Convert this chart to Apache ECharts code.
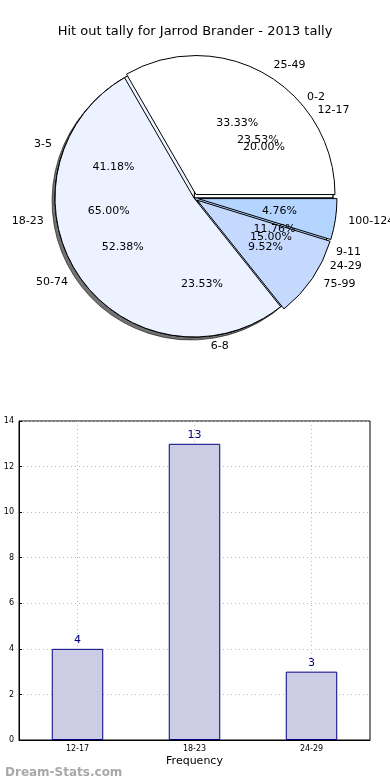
<!DOCTYPE html>
<html><head><meta charset="utf-8">
<script src="https://cdn.jsdelivr.net/npm/echarts@6/dist/echarts.min.js"></script>
<style>html,body{margin:0;padding:0;background:#fff}#c{width:390px;height:780px}</style>
</head><body><div id="c"></div>
<script>
const chartTitle = 'Hit out tally for Jarrod Brander - 2013 tally';
const watermark = 'Dream-Stats.com';
// pie 1 (drawn first, bottom)
const ageCats = ['12-17', '18-23', '24-29'];
const ageVals = [4, 13, 3];
// pie 2
const tallyCats = ['0-2', '3-5', '6-8', '9-11'];
const tallyVals = [4, 7, 4, 2];
// pie 3 (top)
const rangeCats = ['25-49', '50-74', '75-99', '100-124'];
const rangeVals = [7, 11, 2, 1];
const exploded = ['25-49', '75-99', '100-124'];
// bar chart
const barCats = ['12-17', '18-23', '24-29'];
const barVals = [4, 13, 3];
const yMin = 0, yMax = 14, yStep = 2;
const xAxisName = 'Frequency';
const yAxisName = 'Distribution';

const palette = ['#ffffff', '#ecf2ff', '#c5d9ff', '#b3d5ff'];
const FONT = 'DejaVu Sans';
const CX = 194, CY = 198, R = 139;

function pieData(cats, vals, withExplode) {
  return cats.map((c, i) => ({
    name: c, value: vals[i],
    selected: withExplode ? exploded.indexOf(c) >= 0 : false,
    itemStyle: { color: palette[i % palette.length] }
  }));
}
function pieSeries(cats, vals, z, shadow, withExplode) {
  return {
    type: 'pie', center: [CX, CY], radius: [0, R], startAngle: 0, clockwise: false,
    silent: true, animation: false, avoidLabelOverlap: false, z: z,
    selectedMode: 'multiple', selectedOffset: 4,
    data: pieData(cats, vals, withExplode),
    itemStyle: Object.assign({ borderColor: '#000', borderWidth: 1 },
      shadow ? { shadowColor: 'rgba(0,0,0,0.55)', shadowBlur: 0, shadowOffsetX: -3, shadowOffsetY: 3 } : {}),
    label: { show: true, position: 'outside', color: '#000', fontFamily: FONT, fontSize: 11, distanceToLabelLine: 3 },
    labelLine: { show: false, length: 10, length2: 0 },
    labelLayout: { hideOverlap: false },
    emphasis: { disabled: true }
  };
}
function pctSeries(cats, vals, z) {
  const total = vals.reduce((a, b) => a + b, 0);
  return {
    type: 'pie', center: [CX, CY], radius: [R * 0.2, R], startAngle: 0, clockwise: false,
    silent: true, animation: false, avoidLabelOverlap: false, z: z,
    data: cats.map((c, i) => ({ name: c, value: vals[i] })),
    itemStyle: { color: 'rgba(0,0,0,0)', borderWidth: 0 },
    label: { show: true, position: 'inside', color: '#000', fontFamily: FONT, fontSize: 11,
      formatter: p => (p.value / total * 100).toFixed(2) + '%' },
    labelLine: { show: false },
    labelLayout: { hideOverlap: false },
    emphasis: { disabled: true }
  };
}

const chart = echarts.init(document.getElementById('c'), null, { renderer: 'canvas' });
chart.setOption({
  backgroundColor: '#fff',
  animation: false,
  title: [
    { text: chartTitle, left: 'center', top: 20, textStyle: { fontFamily: FONT, fontSize: 13, fontWeight: 'normal', color: '#000' } },
    { text: watermark, left: 0, top: 762, textStyle: { fontFamily: FONT, fontSize: 12, fontWeight: 'bold', color: '#a8a8a8' } }
  ],
  grid: { left: 19, right: 20, top: 421, bottom: 40, containLabel: false, outerBoundsMode: 'none',
    show: true, borderColor: '#000', borderWidth: 1, backgroundColor: 'transparent' },
  xAxis: {
    type: 'category', data: barCats, boundaryGap: true,
    name: xAxisName, nameLocation: 'middle', nameGap: 16,
    nameTextStyle: { fontFamily: FONT, fontSize: 11, color: '#000' },
    axisLine: { show: true, lineStyle: { color: '#000' } },
    axisTick: { show: false },
    axisLabel: { fontFamily: FONT, fontSize: 8, color: '#000', margin: 5 },
    splitLine: { show: true, alignWithLabel: true, lineStyle: { color: '#b8b8b8', type: [1, 3], width: 1 } }
  },
  yAxis: {
    type: 'value', min: yMin, max: yMax, interval: yStep,
    name: yAxisName, nameLocation: 'middle', nameGap: 15, nameRotate: 90,
    nameTextStyle: { fontFamily: FONT, fontSize: 11, color: '#000' },
    axisLine: { show: true, lineStyle: { color: '#000' } },
    axisTick: { show: true, inside: true, length: 3, lineStyle: { color: '#000' } },
    axisLabel: { fontFamily: FONT, fontSize: 8, color: '#000', margin: 5 },
    splitLine: { show: true, lineStyle: { color: '#b8b8b8', type: [1, 3], width: 1 } }
  },
  series: [
    pieSeries(ageCats, ageVals, 2, true, false),
    pieSeries(tallyCats, tallyVals, 3, false, false),
    pieSeries(rangeCats, rangeVals, 4, false, true),
    pctSeries(ageCats, ageVals, 5),
    pctSeries(tallyCats, tallyVals, 5),
    pctSeries(rangeCats, rangeVals, 5),
    {
      type: 'bar', data: barVals, barWidth: '44%', silent: true, z: 3,
      itemStyle: { color: '#ccccE4', borderColor: '#000080', borderWidth: 1 },
      label: { show: true, position: 'top', color: '#000080', fontFamily: FONT, fontSize: 11, distance: 3 }
    }
  ]
});
</script></body></html>
